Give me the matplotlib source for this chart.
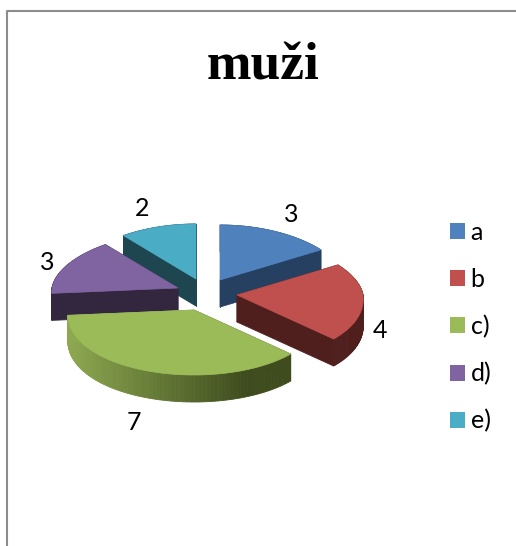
import numpy as np
import matplotlib
matplotlib.use("Agg")
import matplotlib.pyplot as plt
from matplotlib.patches import Patch

labels = ["a", "b", "c)", "d)", "e)"]
values = [3, 4, 7, 3, 2]

top_colors = ["#4F81BD", "#C0504D", "#9BBB59", "#8064A2", "#4BACC6"]
side_colors = ["#254061", "#4F1F1E", "#4A5A26", "#32273F", "#1D4651"]

# where each slice's tip sits after the explode, in pixels
tip_x = [220, 237, 194, 178, 196]
tip_y = [280, 295, 310, 288, 279]
label_x = [291, 380, 134, 47, 142]
label_y = [215, 330, 423, 262, 208]

RX = 126
RY_BACK = 55
RY_FRONT = 65
DEPTH = 27
DRAW_ORDER = [4, 0, 3, 1, 2]


def slice_outline(start, end, x0, y0):
    th = np.radians(np.linspace(start, end, 80))
    c = np.cos(th)
    # perspective: the far side is narrower and flatter than the near side
    ry = np.where(c > 0, RY_BACK, RY_FRONT)
    rx = RX - 10 * np.maximum(c, 0) + 8 * np.maximum(-c, 0)
    return x0 + rx * np.sin(th), y0 - ry * c


def mix(c1, c2, t):
    a = np.array(matplotlib.colors.to_rgb(c1))
    b = np.array(matplotlib.colors.to_rgb(c2))
    return tuple(a + (b - a) * t)


fig = plt.figure(figsize=(5.16, 5.46), dpi=100)
ax = fig.add_axes([0, 0, 1, 1])
ax.set_xlim(0, 516)
ax.set_ylim(546, 0)
ax.axis("off")

# chart border, only left and top are inside the crop
ax.plot([7, 7, 516], [546, 11, 11], color="#8C8C8C", lw=1.5)

edges = np.cumsum([0] + values) / sum(values) * 360

for i in DRAW_ORDER:
    xs, ys = slice_outline(edges[i], edges[i + 1], tip_x[i], tip_y[i])
    px = np.r_[tip_x[i], xs, tip_x[i]]
    py = np.r_[tip_y[i], ys, tip_y[i]]
    # side walls first, the top face then hides the ones facing away
    for k in range(len(px) - 1):
        color = side_colors[i]
        if i == 2:
            # the big slice has a lit gradient along its rim
            t = (px[k] - px.min()) / (px.max() - px.min())
            color = mix("#8DA950", "#3F4C1E", min(t * 1.25, 1))
        ax.fill([px[k], px[k + 1], px[k + 1], px[k]],
                [py[k], py[k + 1], py[k + 1] + DEPTH, py[k] + DEPTH],
                color=color, lw=0.6)
    ax.fill(px, py, color=top_colors[i], lw=0.5)

for i in range(len(values)):
    ax.text(label_x[i], label_y[i], str(values[i]), fontsize=18, family="Lato",
            ha="center", va="center", color="black")

ax.text(263, 67, "muži", fontsize=38.5, family="Liberation Serif", weight="bold",
        ha="center", va="center", color="black")

handles = [Patch(facecolor=c, edgecolor="none") for c in top_colors]
fig.legend(handles, labels, loc="center left", bbox_to_anchor=(0.8724, 0.4015),
           frameon=False, prop={"family": "Lato", "size": 18},
           handlelength=0.6, handleheight=0.6, handletextpad=0.22,
           labelspacing=0.96, borderpad=0, borderaxespad=0)

fig.savefig("out.png", dpi=100)
